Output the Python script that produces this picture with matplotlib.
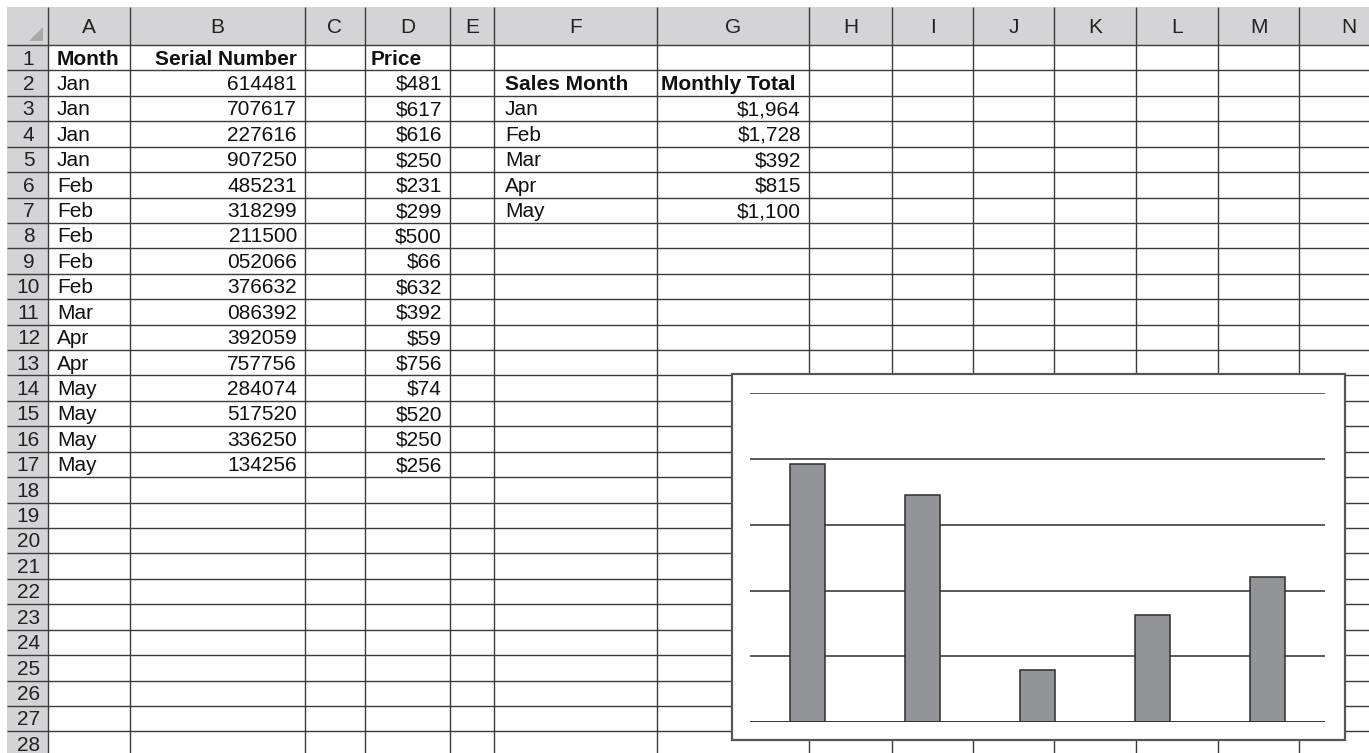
import matplotlib
matplotlib.use("Agg")
import matplotlib.pyplot as plt
from matplotlib.patches import Rectangle, Polygon

plt.rcParams['font.family'] = ['Liberation Sans', 'DejaVu Sans']

# ---------------- data ----------------
col_letters = ["A", "B", "C", "D", "E", "F", "G", "H", "I", "J", "K", "L", "M", "N"]
months = ["Jan", "Jan", "Jan", "Jan", "Feb", "Feb", "Feb", "Feb", "Feb",
          "Mar", "Apr", "Apr", "May", "May", "May", "May"]
serials = ["614481", "707617", "227616", "907250", "485231", "318299", "211500",
           "052066", "376632", "086392", "392059", "757756", "284074", "517520",
           "336250", "134256"]
prices = [481, 617, 616, 250, 231, 299, 500, 66, 632, 392, 59, 756, 74, 520, 250, 256]
sales_months = ["Jan", "Feb", "Mar", "Apr", "May"]
monthly_totals = [1964, 1728, 392, 815, 1100]
n_rows = 28

# ---------------- layout ----------------
W, H = 1369, 753
fig = plt.figure(figsize=(W / 100, H / 100), dpi=100)
ax = fig.add_axes([0, 0, 1, 1])
ax.set_xlim(0, W)
ax.set_ylim(H, 0)
ax.axis('off')

left0, top0 = 7, 7
hdr_x = 48
hdr_y = 45
row_h = 25.42
col_edges = [48, 130, 305, 365, 450, 494, 657, 809, 892, 973, 1054, 1136, 1218, 1299, 1380]
row_edges = [hdr_y + i * row_h for i in range(n_rows + 1)]
left_pad = [9, 8, 8, 6, 8, 11, 4, 8, 8, 8, 8, 8, 8, 8]

hdr_gray = "#d4d4d6"
line_c = "#3c3c3c"
fs = 15.0
base_off = 19.5   # baseline offset from row top

# header backgrounds
ax.add_patch(Rectangle((left0, top0), W - left0, hdr_y - top0, facecolor=hdr_gray, edgecolor='none', zorder=1))
ax.add_patch(Rectangle((left0, top0), hdr_x - left0, H - top0, facecolor=hdr_gray, edgecolor='none', zorder=1))
# corner triangle
ax.add_patch(Polygon([[29, 41], [43, 41], [43, 27]], closed=True, facecolor="#a9a9a9", edgecolor='none', zorder=2))

# grid lines
for y in row_edges:
    ax.plot([left0, W], [y, y], color=line_c, lw=1.0, zorder=3, solid_capstyle='butt')
for x in col_edges:
    ax.plot([x, x], [top0, H], color=line_c, lw=1.0, zorder=3, solid_capstyle='butt')

# column headers
for i, L in enumerate(col_letters):
    xc = (col_edges[i] + col_edges[i + 1]) / 2
    if i == len(col_letters) - 1:
        xc = (col_edges[i] + 1369 + 30) / 2
    ax.text(xc, 32.5, L, ha='center', va='baseline', fontsize=fs, color="#222222", zorder=4)

# row numbers
for r in range(n_rows):
    ax.text((left0 + hdr_x) / 2 + 1, row_edges[r] + base_off, str(r + 1),
            ha='center', va='baseline', fontsize=fs, color="#222222", zorder=4)


def cell_text(col, row, s, align='left', bold=False):
    x0, x1 = col_edges[col], col_edges[col + 1]
    yb = row_edges[row - 1] + base_off
    kw = dict(va='baseline', fontsize=fs, fontweight='bold' if bold else 'normal',
              color='#111111', zorder=4)
    if align == 'left':
        ax.text(x0 + left_pad[col], yb, s, ha='left', **kw)
    else:
        ax.text(x1 - 8, yb, s, ha='right', **kw)


cell_text(0, 1, "Month", bold=True)
cell_text(1, 1, "Serial Number", align='right', bold=True)
cell_text(3, 1, "Price", bold=True)
for i, (m, s, p) in enumerate(zip(months, serials, prices)):
    cell_text(0, i + 2, m)
    cell_text(1, i + 2, s, align='right')
    cell_text(3, i + 2, f"${p:,}", align='right')

cell_text(5, 2, "Sales Month", bold=True)
cell_text(6, 2, "Monthly Total", bold=True)
for i, (m, t) in enumerate(zip(sales_months, monthly_totals)):
    cell_text(5, i + 3, m)
    cell_text(6, i + 3, f"${t:,}", align='right')

# chart box
cx0, cy0, cx1, cy1 = 732, 374, 1345, 740
ax.add_patch(Rectangle((cx0, cy0), cx1 - cx0, cy1 - cy0, facecolor='white',
                       edgecolor="#555555", lw=1.6, zorder=10))

# chart plot area
px0, px1 = 750, 1325
py_top, py_bot = 393.3, 722
cax = fig.add_axes([px0 / W, (H - py_bot) / H, (px1 - px0) / W, (py_bot - py_top) / H])
cax.set_facecolor('none')
cax.set_xlim(-0.5, len(sales_months) - 0.5)
cax.set_ylim(0, 2500)
cax.set_yticks([0, 500, 1000, 1500, 2000, 2500])
cax.set_xticks([])
cax.tick_params(left=False, labelleft=False)
for sp in cax.spines.values():
    sp.set_visible(False)
cax.yaxis.grid(True, color="#2e2e2e", lw=1.1)
cax.set_axisbelow(True)
cax.bar(range(len(sales_months)), monthly_totals, width=0.3, color="#939498",
        edgecolor="#2e2e2e", linewidth=1.1, zorder=3)
cax.axhline(0, color="#2e2e2e", lw=1.1, zorder=4)

fig.savefig("out.png", dpi=100)
